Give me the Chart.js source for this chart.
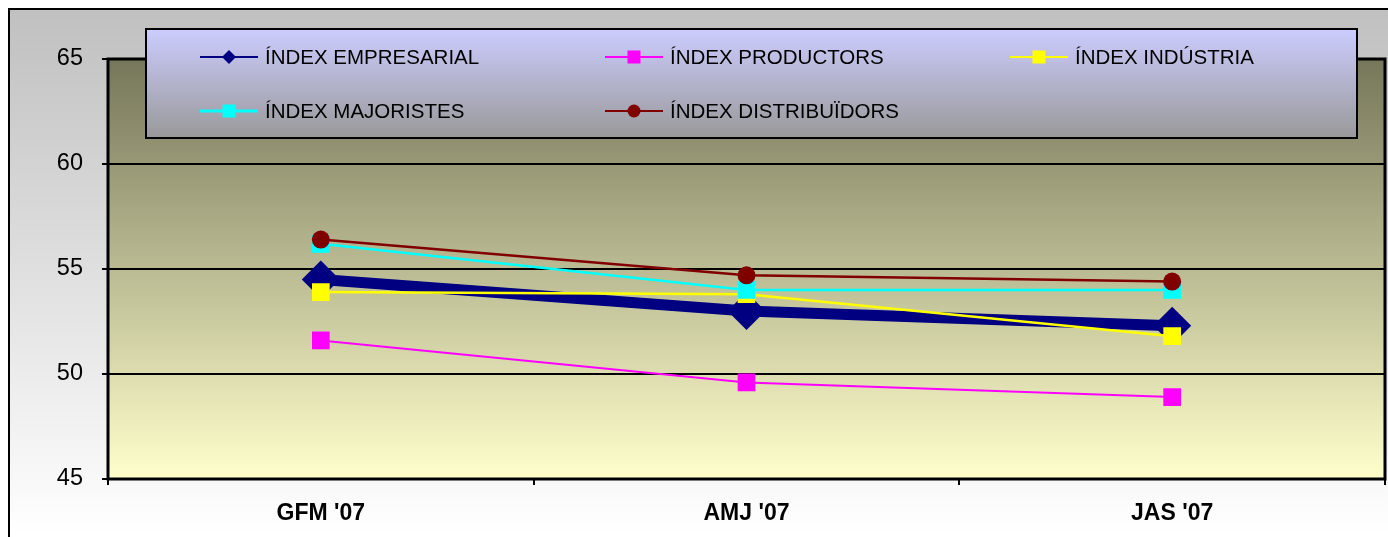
<!DOCTYPE html>
<html>
<head>
<meta charset="UTF-8">
<title>Índex</title>
<script src="https://cdn.jsdelivr.net/npm/chart.js"></script>
<style>
  body { margin: 0; background: #fff; }
  #wrap { width: 1388px; height: 537px; }
</style>
</head>
<body>
<div id="wrap"><canvas id="myChart" width="1388" height="537"></canvas></div>
<script>
const categories = ["GFM '07", "AMJ '07", "JAS '07"];
const seriesNames = ['ÍNDEX EMPRESARIAL', 'ÍNDEX PRODUCTORS', 'ÍNDEX INDÚSTRIA', 'ÍNDEX MAJORISTES', 'ÍNDEX DISTRIBUÏDORS'];
const empresarial = [54.5, 53.0, 52.3];
const productors = [51.6, 49.6, 48.9];
const industria = [53.9, 53.8, 51.8];
const majoristes = [56.2, 54.0, 54.0];
const distribuidors = [56.4, 54.7, 54.4];
const yTicks = [45, 50, 55, 60, 65];

const FONT = "'Liberation Sans', Arial, sans-serif";

// backgrounds, plot frame and the floating legend
const decor = {
  id: 'decor',
  beforeDraw(chart) {
    const ctx = chart.ctx, a = chart.chartArea;
    ctx.save();
    ctx.fillStyle = '#fff';
    ctx.fillRect(0, 0, chart.width, chart.height);
    let g = ctx.createLinearGradient(0, 9, 0, chart.height);
    g.addColorStop(0, '#c0c0c0');
    g.addColorStop(1, '#ffffff');
    ctx.fillStyle = g;
    ctx.fillRect(9, 9, chart.width, chart.height);
    ctx.strokeStyle = '#000';
    ctx.lineWidth = 2;
    ctx.beginPath();
    ctx.moveTo(9, chart.height + 5);
    ctx.lineTo(9, 9);
    ctx.lineTo(chart.width + 5, 9);
    ctx.stroke();
    g = ctx.createLinearGradient(0, a.top, 0, a.bottom);
    g.addColorStop(0, '#76765a');
    g.addColorStop(1, '#ffffcc');
    ctx.fillStyle = g;
    ctx.fillRect(a.left, a.top, a.right - a.left, a.bottom - a.top);
    ctx.restore();
  },
  beforeDatasetsDraw(chart) {
    const ctx = chart.ctx, a = chart.chartArea;
    ctx.save();
    ctx.strokeStyle = '#000';
    ctx.lineWidth = 3;
    ctx.strokeRect(a.left, a.top, a.right - a.left, a.bottom - a.top);
    ctx.restore();
  },
  afterDraw(chart) {
    const ctx = chart.ctx;
    ctx.save();
    const bx = 146, by = 29, bw = 1211, bh = 109;
    const g = ctx.createLinearGradient(0, by, 0, by + bh);
    g.addColorStop(0, '#ccccff');
    g.addColorStop(1, '#999999');
    ctx.fillStyle = g;
    ctx.fillRect(bx, by, bw, bh);
    ctx.strokeStyle = '#000';
    ctx.lineWidth = 2;
    ctx.strokeRect(bx, by, bw, bh);

    const cols = [200, 605, 1010], rows = [57, 111];
    ctx.font = '20.5px ' + FONT;
    ctx.textBaseline = 'middle';
    chart.data.datasets.forEach((ds, i) => {
      const x = cols[i % 3], y = rows[Math.floor(i / 3)];
      ctx.strokeStyle = ds.borderColor;
      ctx.lineWidth = ds.legendLine;
      ctx.beginPath();
      ctx.moveTo(x, y);
      ctx.lineTo(x + 58, y);
      ctx.stroke();
      const cx = x + 29;
      ctx.fillStyle = ds.pointBackgroundColor;
      ctx.beginPath();
      if (ds.pointStyle === 'rectRot') {
        ctx.moveTo(cx, y - 7); ctx.lineTo(cx + 7, y); ctx.lineTo(cx, y + 7); ctx.lineTo(cx - 7, y);
      } else if (ds.pointStyle === 'circle') {
        ctx.arc(cx, y, 6.5, 0, Math.PI * 2);
      } else {
        ctx.rect(cx - 6.5, y - 6.5, 13, 13);
      }
      ctx.closePath();
      ctx.fill();
      ctx.fillStyle = '#000';
      ctx.fillText(ds.label, x + 65, y + 1);
    });
    ctx.restore();
  }
};

const ctx = document.getElementById('myChart').getContext('2d');
const myChart = new Chart(ctx, {
  type: 'line',
  data: {
    labels: categories,
    datasets: [
      { label: seriesNames[0], data: empresarial, borderColor: '#000080', pointBackgroundColor: '#000080',
        borderWidth: 11, pointStyle: 'rectRot', pointRadius: 19, order: 5, legendLine: 2 },
      { label: seriesNames[1], data: productors, borderColor: '#ff00ff', pointBackgroundColor: '#ff00ff',
        borderWidth: 2, pointStyle: 'rect', pointRadius: 12.5, order: 4, legendLine: 2 },
      { label: seriesNames[2], data: industria, borderColor: '#ffff00', pointBackgroundColor: '#ffff00',
        borderWidth: 2.5, pointStyle: 'rect', pointRadius: 12.5, order: 3, legendLine: 2 },
      { label: seriesNames[3], data: majoristes, borderColor: '#00ffff', pointBackgroundColor: '#00ffff',
        borderWidth: 2.5, pointStyle: 'rect', pointRadius: 12.5, order: 2, legendLine: 3 },
      { label: seriesNames[4], data: distribuidors, borderColor: '#800000', pointBackgroundColor: '#800000',
        borderWidth: 2.5, pointStyle: 'circle', pointRadius: 9, order: 1, legendLine: 2 }
    ].map(ds => Object.assign(ds, { pointBorderWidth: 0, pointBorderColor: ds.borderColor, tension: 0, fill: false }))
  },
  options: {
    responsive: false,
    animation: false,
    events: [],
    layout: { autoPadding: false, padding: { left: 0, top: 59, right: 3, bottom: 0 } },
    plugins: { legend: { display: false }, tooltip: { enabled: false } },
    scales: {
      x: {
        offset: true,
        grid: { offset: true, drawOnChartArea: false, color: '#000', lineWidth: 2, tickLength: 6 },
        border: { display: false },
        ticks: { color: '#000', font: { family: FONT, size: 23, weight: 'bold' }, padding: 15 },
        afterFit(scale) { scale.height = 58; scale.paddingLeft = 0; scale.paddingRight = 0; }
      },
      y: {
        min: 45, max: 65,
        afterBuildTicks(scale) { scale.ticks = yTicks.map(v => ({ value: v })); },
        grid: { color: '#000', lineWidth: 2, tickLength: 6 },
        border: { display: false },
        ticks: { color: '#000', font: { family: FONT, size: 23.5 }, padding: 19 },
        afterFit(scale) { scale.width = 108; scale.paddingTop = 0; scale.paddingBottom = 0; }
      }
    }
  },
  plugins: [decor]
});
</script>
</body>
</html>
